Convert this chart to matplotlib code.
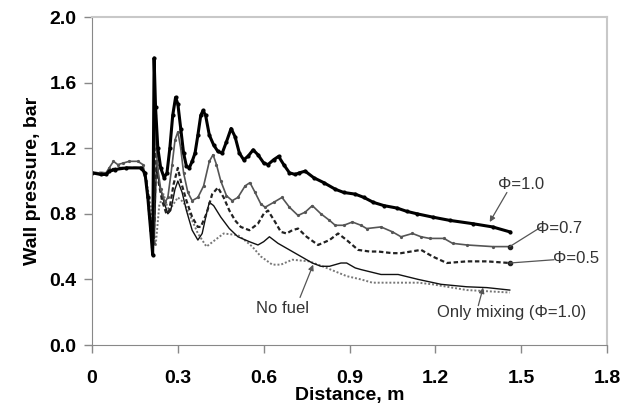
import matplotlib
matplotlib.use("Agg")
import matplotlib.pyplot as plt

plt.rcParams["font.family"] = ["Liberation Sans", "DejaVu Sans"]

# ── Data ─────────────────────────────────────────────────────────────────────
X_PHI10 = [0, 0.03, 0.05, 0.06, 0.08, 0.12, 0.17, 0.185, 0.195, 0.205, 0.212, 0.217,
           0.222, 0.23, 0.24, 0.252, 0.262, 0.272, 0.282, 0.292, 0.30, 0.31, 0.32,
           0.33, 0.34, 0.35, 0.36, 0.37, 0.38, 0.388, 0.397, 0.41, 0.425, 0.44,
           0.455, 0.47, 0.486, 0.50, 0.515, 0.53, 0.545, 0.563, 0.58, 0.60, 0.615,
           0.635, 0.652, 0.67, 0.69, 0.71, 0.725, 0.745, 0.775, 0.81, 0.85, 0.88,
           0.92, 0.95, 0.983, 1.02, 1.066, 1.10, 1.136, 1.19, 1.25, 1.33, 1.40, 1.46]
Y_PHI10 = [1.05, 1.04, 1.04, 1.06, 1.07, 1.08, 1.08, 1.05, 0.9, 0.7, 0.55, 1.75,
           1.45, 1.2, 1.08, 1.02, 1.05, 1.2, 1.40, 1.51, 1.47, 1.32, 1.17,
           1.09, 1.08, 1.12, 1.17, 1.28, 1.40, 1.43, 1.40, 1.28, 1.22, 1.18,
           1.17, 1.24, 1.32, 1.27, 1.17, 1.13, 1.15, 1.19, 1.16, 1.11, 1.10,
           1.13, 1.15, 1.10, 1.05, 1.04, 1.05, 1.06, 1.02, 0.99, 0.95, 0.93,
           0.92, 0.90, 0.87, 0.85, 0.835, 0.815, 0.80, 0.78, 0.76, 0.74, 0.72, 0.69]

X_PHI07 = [0, 0.05, 0.06, 0.075, 0.09, 0.11, 0.13, 0.16, 0.178, 0.19, 0.2, 0.21,
           0.215, 0.22, 0.228, 0.24, 0.255, 0.265, 0.28, 0.29, 0.30, 0.31, 0.32,
           0.335, 0.35, 0.37, 0.39, 0.41, 0.423, 0.435, 0.45, 0.47, 0.49, 0.51,
           0.535, 0.552, 0.57, 0.59, 0.605, 0.635, 0.664, 0.69, 0.72, 0.745, 0.77,
           0.80, 0.83, 0.85, 0.88, 0.91, 0.94, 0.96, 1.01, 1.05, 1.08, 1.12, 1.15,
           1.18, 1.23, 1.26, 1.31, 1.40, 1.46]
Y_PHI07 = [1.05, 1.05, 1.08, 1.12, 1.10, 1.11, 1.12, 1.12, 1.10, 1.0, 0.8, 0.6,
           0.62, 1.40, 1.1, 0.95, 0.87, 0.90, 1.1, 1.25, 1.30, 1.2, 1.05,
           0.93, 0.88, 0.90, 0.97, 1.12, 1.16, 1.10, 1.0, 0.91, 0.88, 0.90,
           0.97, 0.99, 0.93, 0.86, 0.84, 0.87, 0.90, 0.84, 0.79, 0.81, 0.85,
           0.80, 0.76, 0.73, 0.73, 0.75, 0.73, 0.71, 0.72, 0.69, 0.66, 0.68, 0.66,
           0.65, 0.65, 0.62, 0.61, 0.60, 0.60]

X_PHI05 = [0, 0.05, 0.06, 0.1, 0.175, 0.19, 0.2, 0.212, 0.218, 0.224, 0.232, 0.245,
           0.26, 0.27, 0.285, 0.30, 0.31, 0.33, 0.35, 0.37, 0.38, 0.40, 0.42, 0.44,
           0.46, 0.48, 0.50, 0.52, 0.55, 0.58, 0.60, 0.615, 0.64, 0.66, 0.68, 0.70,
           0.72, 0.75, 0.79, 0.83, 0.86, 0.89, 0.93, 0.97, 1.0, 1.05, 1.08, 1.15,
           1.19, 1.24, 1.31, 1.38, 1.46]
Y_PHI05 = [1.05, 1.05, 1.07, 1.08, 1.08, 1.0, 0.8, 0.6, 0.75, 1.2, 1.0, 0.88,
           0.80, 0.82, 0.98, 1.08, 1.0, 0.88, 0.78, 0.72, 0.72, 0.80, 0.92, 0.96,
           0.90, 0.82, 0.76, 0.72, 0.70, 0.74, 0.80, 0.82, 0.75, 0.69, 0.68, 0.70,
           0.71, 0.66, 0.61, 0.64, 0.68, 0.64, 0.58, 0.57, 0.57, 0.56, 0.56, 0.58,
           0.54, 0.50, 0.51, 0.51, 0.50]

X_MIX = [0, 0.05, 0.1, 0.175, 0.19, 0.2, 0.21, 0.218, 0.225, 0.235, 0.25, 0.265,
         0.275, 0.29, 0.30, 0.315, 0.33, 0.35, 0.37, 0.385, 0.40, 0.41, 0.425,
         0.45, 0.48, 0.51, 0.55, 0.58, 0.60, 0.62, 0.65, 0.70, 0.74, 0.77, 0.80,
         0.83, 0.87, 0.89, 0.92, 0.94, 1.01, 1.07, 1.14, 1.22, 1.31, 1.38, 1.46]
Y_MIX = [1.05, 1.05, 1.08, 1.08, 1.0, 0.82, 0.65, 0.65, 1.1, 0.98, 0.88, 0.80,
         0.82, 0.95, 1.0, 0.93, 0.82, 0.70, 0.64, 0.68, 0.80, 0.87, 0.85,
         0.78, 0.71, 0.66, 0.63, 0.61, 0.63, 0.66, 0.62, 0.57, 0.53, 0.50, 0.48,
         0.48, 0.50, 0.50, 0.47, 0.46, 0.43, 0.43, 0.40, 0.37, 0.355, 0.35, 0.335]

X_NOFUEL = [0, 0.05, 0.1, 0.175, 0.19, 0.205, 0.222, 0.235, 0.25, 0.26, 0.27,
            0.285, 0.30, 0.32, 0.34, 0.37, 0.40, 0.43, 0.46, 0.51, 0.54, 0.56,
            0.59, 0.63, 0.66, 0.70, 0.76, 0.82, 0.89, 0.94, 0.98, 1.08, 1.14,
            1.19, 1.31, 1.46]
Y_NOFUEL = [1.05, 1.05, 1.08, 1.08, 1.0, 0.85, 0.60, 0.85, 0.92, 0.86, 0.82,
            0.86, 0.90, 0.87, 0.80, 0.68, 0.60, 0.64, 0.68, 0.67, 0.63, 0.60,
            0.54, 0.49, 0.49, 0.52, 0.51, 0.47, 0.42, 0.40, 0.38, 0.38, 0.38,
            0.37, 0.335, 0.32]

X_TICKS = [0, 0.3, 0.6, 0.9, 1.2, 1.5, 1.8]
X_TICK_LABELS = ["0", "0.3", "0.6", "0.9", "1.2", "1.5", "1.8"]
Y_TICKS = [0.0, 0.4, 0.8, 1.2, 1.6, 2.0]


def main():
    fig = plt.figure(figsize=(6.32, 4.08), dpi=100)
    ax = fig.add_axes([0.1456, 0.1544, 0.8149, 0.8039])

    ax.plot(X_NOFUEL, Y_NOFUEL, color="#777777", lw=1.4, ls=(0, (1, 1)))
    ax.plot(X_MIX, Y_MIX, color="#111111", lw=1.0)
    ax.plot(X_PHI05, Y_PHI05, color="#222222", lw=1.6, ls=(0, (2, 1.2)))
    ax.plot(X_PHI07, Y_PHI07, color="#555555", lw=1.2, marker="o", ms=1.3)
    ax.plot(X_PHI10, Y_PHI10, color="#000000", lw=2.2, marker="o", ms=2.0)
    ax.plot([X_PHI07[-1], X_PHI05[-1]], [Y_PHI07[-1], Y_PHI05[-1]], ls="none",
            marker="o", ms=3, color="#222222")

    # annotations
    tkw = dict(fontsize=12, color="#333333", ha="center", va="center")
    akw = dict(arrowstyle="-|>", color="#555555", lw=0.9, mutation_scale=8,
               shrinkA=0, shrinkB=0)
    lkw = dict(arrowstyle="-", color="#555555", lw=0.9, shrinkA=0, shrinkB=0)
    ax.annotate("", xy=(1.39, 0.75), xytext=(1.45, 0.93), arrowprops=akw)
    ax.text(1.50, 0.98, "Φ=1.0", **tkw)
    ax.annotate("", xy=(1.46, 0.60), xytext=(1.57, 0.72), arrowprops=lkw)
    ax.text(1.633, 0.713, "Φ=0.7", **tkw)
    ax.annotate("", xy=(1.46, 0.50), xytext=(1.615, 0.52), arrowprops=lkw)
    ax.text(1.69, 0.53, "Φ=0.5", **tkw)
    ax.annotate("", xy=(0.773, 0.49), xytext=(0.727, 0.29), arrowprops=akw)
    ax.text(0.667, 0.225, "No fuel", **tkw)
    ax.annotate("", xy=(1.367, 0.35), xytext=(1.35, 0.24), arrowprops=akw)
    ax.text(1.465, 0.20, "Only mixing (Φ=1.0)", **tkw)

    ax.set_xlim(0, 1.8)
    ax.set_ylim(0, 2.0)
    ax.set_xticks(X_TICKS)
    ax.set_xticklabels(X_TICK_LABELS)
    ax.set_yticks(Y_TICKS)
    ax.set_yticklabels([f"{v:.1f}" for v in Y_TICKS])
    ax.tick_params(direction="out", length=6, width=1, color="#888888",
                   labelsize=14, pad=5)
    ax.tick_params(axis="x", pad=12)
    for lab in ax.get_xticklabels() + ax.get_yticklabels():
        lab.set_fontweight("bold")

    for side in ("left", "bottom"):
        ax.spines[side].set_color("#888888")
    for side in ("top", "right"):
        ax.spines[side].set_color("#c8c8c8")
        ax.spines[side].set_linewidth(1.5)

    ax.set_xlabel("Distance, m", fontsize=14, fontweight="bold", labelpad=0)
    ax.set_ylabel("Wall pressure, bar", fontsize=14, fontweight="bold", labelpad=6)

    fig.savefig("out.png", dpi=100)


if __name__ == "__main__":
    main()
